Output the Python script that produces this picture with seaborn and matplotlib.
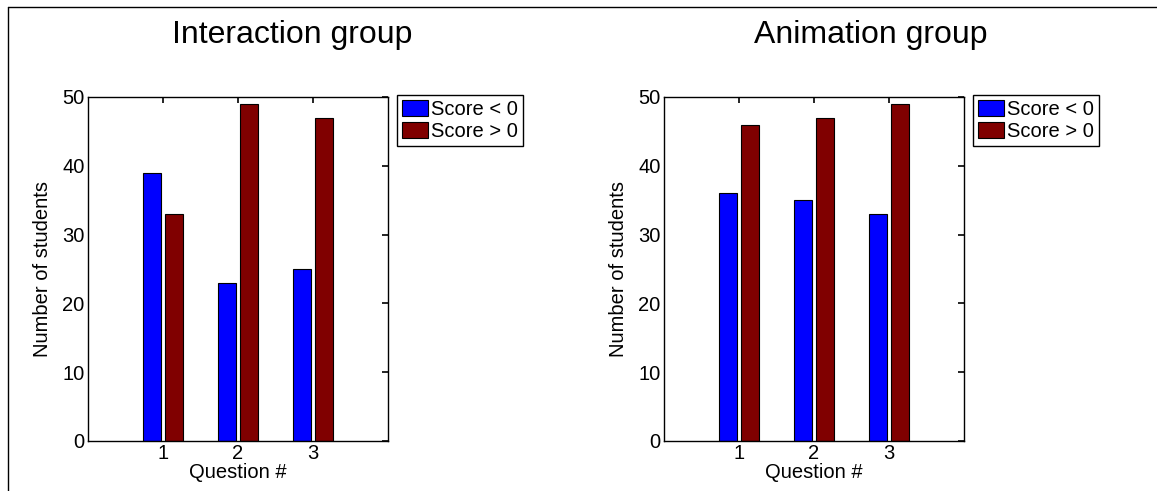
import numpy as np
import pandas as pd
import matplotlib
matplotlib.use("Agg")
import matplotlib.pyplot as plt
import seaborn as sns
from matplotlib.lines import Line2D

# --- data ---
QUESTIONS = ["1", "2", "3"]
GROUPES = ["Interaction group", "Animation group"]
SCORE_LABELS = ["Score < 0", "Score > 0"]
INTERACTION_NEG = [39, 23, 25]
INTERACTION_POS = [33, 49, 47]
ANIMATION_NEG = [36, 35, 33]
ANIMATION_POS = [46, 47, 49]

COULEURS = {"Score < 0": (0.0, 0.0, 1.0), "Score > 0": (0.5, 0.0, 0.0)}

sns.set_theme(style="white")
plt.rcParams['font.family'] = ['Liberation Sans', 'DejaVu Sans']
plt.rcParams['text.color'] = 'black'
plt.rcParams['axes.labelcolor'] = 'black'


def make_df(neg, pos):
    return pd.DataFrame({
        "Question": QUESTIONS * 2,
        "Score": [SCORE_LABELS[0]] * 3 + [SCORE_LABELS[1]] * 3,
        "Students": list(neg) + list(pos),
    })


donnees = [make_df(INTERACTION_NEG, INTERACTION_POS),
           make_df(ANIMATION_NEG, ANIMATION_POS)]

W, H = 1157, 491
FS = 14.5
fig = plt.figure(figsize=(W / 100, H / 100), dpi=100)

ax_left_px = [88, 664]
title_cx = [292, 871]

for i, df in enumerate(donnees):
    ax = fig.add_axes([ax_left_px[i] / W, 1 - 441 / H, 300 / W, 344 / H])
    sns.barplot(data=df, x="Question", y="Students", hue="Score",
                order=QUESTIONS, hue_order=SCORE_LABELS, palette=COULEURS,
                saturation=1, width=0.58, gap=0.17, edgecolor="black",
                linewidth=0.8, errorbar=None, ax=ax)
    ax.set_xlim(-1, 3)
    ax.set_ylim(0, 50)
    ax.set_yticks(np.arange(0, 51, 10))
    for s in ax.spines.values():
        s.set_visible(True)
        s.set_color("black")
        s.set_linewidth(1.0)
    ax.tick_params(direction="in", length=4, width=1.2, top=True, right=True,
                   labelsize=FS, colors="black", pad=2)
    ax.tick_params(axis="y", pad=2.5)
    ax.set_xlabel("Question #", fontsize=FS, labelpad=0)
    ax.set_ylabel("Number of students", fontsize=FS, labelpad=7)

    sns.move_legend(ax, loc="upper left", bbox_to_anchor=(1.03, 1.005),
                    title=None, frameon=True, fancybox=False, fontsize=FS,
                    handlelength=1.3, handleheight=0.85, handletextpad=0.15,
                    labelspacing=0.15, borderpad=0.25, borderaxespad=0)
    leg = ax.get_legend()
    leg.get_frame().set_edgecolor("black")
    leg.get_frame().set_linewidth(1.0)
    leg.get_frame().set_alpha(1)

    fig.text(title_cx[i] / W, 1 - 42.5 / H, GROUPES[i], ha="center",
             va="baseline", fontsize=23, color="black")

# bordure gauche / haut de la capture
fig.add_artist(Line2D([8 / W, 8 / W], [0, 1 - 7 / H], transform=fig.transFigure,
                      color="black", linewidth=1))
fig.add_artist(Line2D([8 / W, 1], [1 - 7 / H, 1 - 7 / H], transform=fig.transFigure,
                      color="black", linewidth=1))

plt.savefig("out.png", dpi=100)
plt.close()
